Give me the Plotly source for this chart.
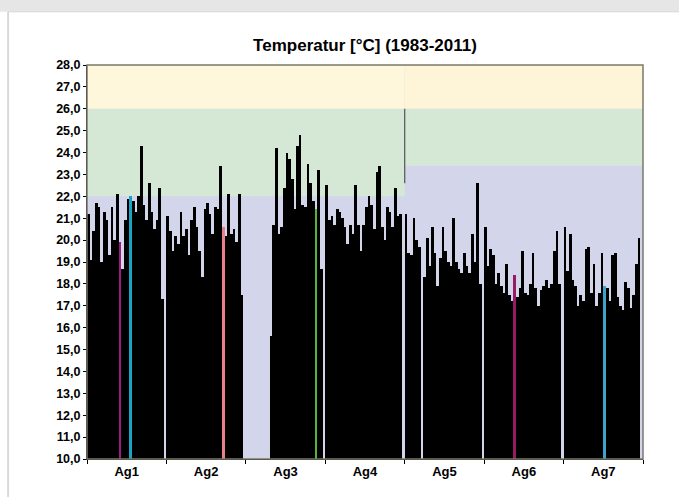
import plotly.graph_objects as go

# ---------------- data ----------------
categories = ["Ag1", "Ag2", "Ag3", "Ag4", "Ag5", "Ag6", "Ag7"]
years = list(range(1983, 2012))  # 29 years

ag1 = [21.2, 19.1, 20.4, 21.7, 21.5, 19.0, 21.3, 20.9, 19.3, 21.5, 20.0, 22.1, 19.9, 18.7, 20.9,
       21.9, 22.0, 21.8, 21.3, 22.0, 24.3, 21.6, 20.9, 22.6, 21.3, 20.5, 20.9, 22.4, 17.3]
ag2 = [21.1, 20.4, 19.5, 20.2, 19.8, 21.3, 20.2, 20.5, 19.3, 20.9, 21.5, 20.6, 19.5, 18.3, 21.4,
       21.7, 21.2, 20.3, 21.5, 21.4, 23.4, 20.6, 20.2, 22.1, 20.3, 20.5, 19.9, 22.1, 17.5]
ag3 = [None, None, None, None, None, None, None, None, None, 15.6, 20.7, 24.2, 20.3, 20.6, 22.4,
       24.0, 23.7, 22.8, 21.4, 24.3, 24.8, 21.6, 21.5, 23.5, 22.6, 21.8, 21.4, 23.2, 18.7]
ag4 = [22.5, 20.9, 21.1, 20.7, 21.4, 21.3, 21.0, 20.6, 19.8, 20.7, 20.3, 22.5, 20.7, 19.5, 20.7,
       21.5, 22.0, 21.6, 20.5, 23.1, 23.4, 20.6, 20.0, 21.5, 21.3, 20.6, 22.4, 21.1, 21.2]
ag5 = [21.2, 19.4, 19.3, 21.0, 20.0, 19.7, None, 18.3, 20.1, 18.8, 20.6, 19.4, 17.9, 19.2, 20.6,
       19.5, 19.0, 18.8, 21.0, 19.0, 18.7, 18.5, 19.4, 18.8, 18.5, 20.3, 19.0, 22.6, 18.0]
ag6 = [20.6, 18.8, 19.6, 19.3, 18.0, 18.5, 17.9, 17.6, 18.9, 17.5, 17.2, 18.4, 17.4, 17.8, 19.5,
       17.6, 17.5, 18.0, 19.4, 17.8, 17.0, 17.7, 17.9, 18.2, 17.8, 18.0, 19.5, 20.4, 18.0]
ag7 = [20.6, 18.6, 20.3, 18.2, 17.9, 17.0, 17.5, 17.2, 19.6, 19.7, 17.6, 18.9, 17.0, 17.6, 19.4,
       17.9, 17.8, 17.2, 19.3, 19.4, 17.4, 17.0, 16.8, 18.1, 17.8, 16.9, 17.5, 18.9, 20.1]
series = [ag1, ag2, ag3, ag4, ag5, ag6, ag7]

# highlighted years (group, year)
highlight_group = ["Ag1", "Ag1", "Ag2", "Ag3", "Ag6", "Ag7"]
highlight_year = [1995, 1999, 2004, 2009, 1994, 1998]
highlight_color = ["#9C1C80", "#1AA3C4", "#E8808A", "#5BB336", "#951B62", "#3AA5C8"]

# comfort bands: (y_low, y_high) for groups Ag1-Ag4 and Ag5-Ag7
yellow_band = (26.0, 28.0)
green_band_left = (22.0, 26.0)
green_band_right = (23.4, 26.0)

ytick_vals = list(range(10, 29))

# ---------------- build ----------------
SLOTS = len(years) + 1  # one empty slot after each group
xs, ys, cols = [], [], []
for g, (cat, vals) in enumerate(zip(categories, series)):
    for k, (yr, v) in enumerate(zip(years, vals)):
        xs.append(g * SLOTS + k)
        ys.append(v)
        c = "#000000"
        for hg, hy, hc in zip(highlight_group, highlight_year, highlight_color):
            if hg == cat and hy == yr:
                c = hc
        cols.append(c)

fig = go.Figure()
fig.add_trace(go.Bar(x=xs, y=ys, marker=dict(color=cols, line=dict(width=0)),
                     hoverinfo="x+y", showlegend=False))

xmin = -0.5
xmax = len(categories) * SLOTS - 0.5
xsplit = 4 * SLOTS - 0.5

shapes = []
def band(x0, x1, y0, y1, color):
    shapes.append(dict(type="rect", xref="x", yref="y", x0=x0, x1=x1, y0=y0, y1=y1,
                       fillcolor=color, line=dict(width=0), layer="below"))

band(xmin, xmax, 10, 28, "#D3D5EA")
band(xmin, xsplit, green_band_left[0], green_band_left[1], "#D4E8D5")
band(xsplit, xmax, green_band_right[0], green_band_right[1], "#D4E8D5")
band(xmin, xsplit, yellow_band[0], yellow_band[1], "#FEF7DB")
band(xsplit, xmax, yellow_band[0], yellow_band[1], "#FEF5D9")

# vertical divider line
shapes.append(dict(type="line", xref="x", yref="y", x0=xsplit, x1=xsplit, y0=26.0, y1=22.6,
                   line=dict(color="#555555", width=1.2), layer="above"))
# plot border (top/right)
shapes.append(dict(type="rect", xref="paper", yref="paper", x0=0, x1=1, y0=0, y1=1,
                   line=dict(color="#7A7A6A", width=1.5), layer="above"))
# page frame: top grey strip and left frame line
shapes.append(dict(type="rect", xref="paper", yref="paper", x0=-0.2, x1=1.2, y0=1.135, y1=1.3,
                   fillcolor="#E6E6E6", line=dict(width=0), layer="below"))
shapes.append(dict(type="line", xref="paper", yref="paper", x0=-0.142, x1=-0.142, y0=-0.2, y1=1.135,
                   line=dict(color="#CFCFCF", width=1.5), layer="below"))
shapes.append(dict(type="line", xref="paper", yref="paper", x0=-0.142, x1=1.2, y0=1.135, y1=1.135,
                   line=dict(color="#D8D8D8", width=1), layer="below"))

centers = [g * SLOTS + (SLOTS - 1) / 2 for g in range(len(categories))]

fig.update_layout(
    width=679, height=497,
    margin=dict(l=87, r=36, t=65, b=38),
    paper_bgcolor="white", plot_bgcolor="white",
    separators=", ",
    bargap=0,
    shapes=shapes,
    font=dict(family="Liberation Sans, Arial, sans-serif", color="#000000"),
    title=dict(text="Temperatur [°C] (1983-2011)", x=0.5, xanchor="center",
               y=1 - 45 / 497, yanchor="middle", xref="paper", yref="container",
               font=dict(size=17, weight="bold", color="#000000")),
)

fig.update_xaxes(range=[xmin, xmax], tickmode="array", tickvals=centers, ticktext=categories,
                 ticks="", showgrid=False, zeroline=False,
                 showline=True, linecolor="#000000", linewidth=1,
                 tickfont=dict(size=13, weight="bold"),
                 minor=dict(tick0=-0.5, dtick=SLOTS, ticks="outside", ticklen=4,
                            tickcolor="#000000", showgrid=False))
fig.update_yaxes(range=[10, 28], tickmode="array", tickvals=ytick_vals, tickformat=".1f",
                 ticks="outside", ticklen=3, tickcolor="#000000", showgrid=False, zeroline=False,
                 showline=True, linecolor="#000000", linewidth=1,
                 tickfont=dict(size=12.5, weight="bold"))

fig.write_html("out.html", config={"displayModeBar": False},
               post_script="document.body.style.margin='0';")
